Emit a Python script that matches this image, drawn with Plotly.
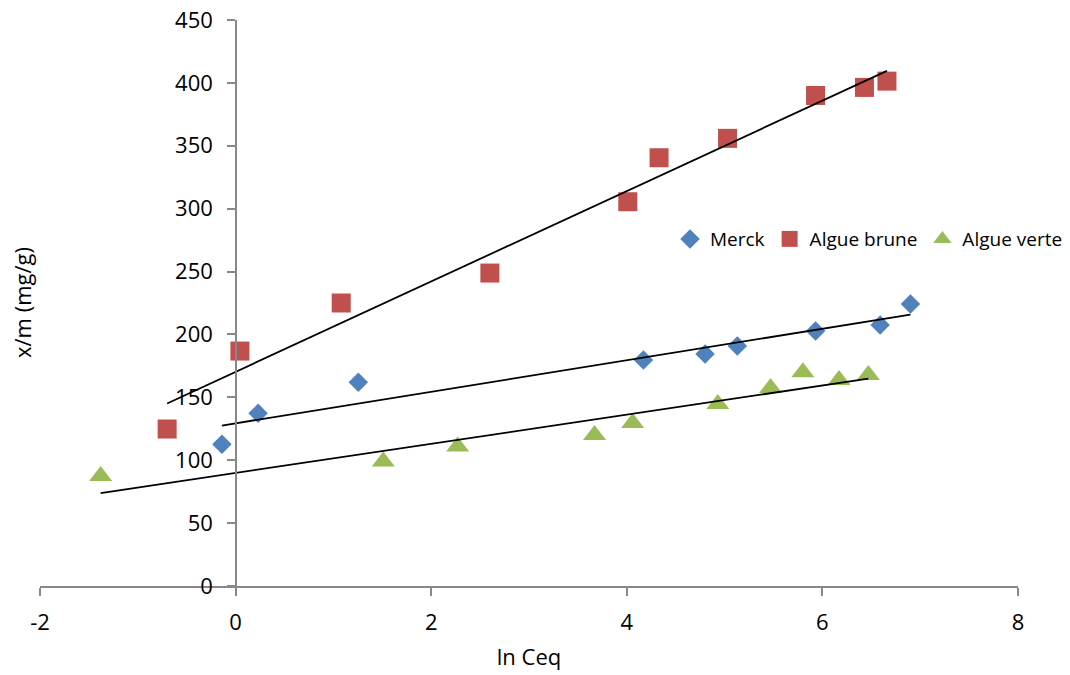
import numpy as np
import plotly.graph_objects as go

# Data
merck_x = [-0.14, 0.23, 1.255, 4.17, 4.80, 5.13, 5.93, 6.59, 6.90]
merck_y = [112.6, 137.3, 161.9, 179.6, 184.4, 190.8, 202.7, 207.5, 224.2]

brune_x = [-0.70, 0.044, 1.08, 2.60, 4.01, 4.33, 5.03, 5.93, 6.43, 6.66]
brune_y = [124.8, 186.8, 225.0, 248.8, 305.5, 340.5, 355.9, 390.0, 396.4, 401.4]

verte_x = [-1.38, 1.51, 2.27, 3.67, 4.06, 4.93, 5.47, 5.80, 6.17, 6.47]
verte_y = [87.4, 99.0, 111.0, 120.0, 129.6, 144.7, 157.4, 170.0, 163.8, 167.7]

series_names = ["Merck", "Algue brune", "Algue verte"]
colors = ["#4F81BD", "#C0504D", "#9BBB59"]
symbols = ["diamond", "square", "triangle-up"]
sizes = [15, 19, 20]

x_ticks = [-2, 0, 2, 4, 6, 8]
x_ticktext = ["-2", "0", "2", "4", "6", "8"]
y_ticks = [0, 50, 100, 150, 200, 250, 300, 350, 400, 450]

FONT = "Open Sans"

fig = go.Figure()
all_series = [(merck_x, merck_y), (brune_x, brune_y), (verte_x, verte_y)]

for (xs, ys), name, c, s, sz in zip(all_series, series_names, colors, symbols, sizes):
    fig.add_trace(go.Scatter(
        x=xs, y=ys, mode="markers", name=name,
        marker=dict(symbol=s, size=sz, color=c, line=dict(width=0)),
        cliponaxis=False,
    ))

# Linear trendlines (Excel-style), over each series' x range
for xs, ys in all_series:
    a, b = np.polyfit(xs, ys, 1)
    xl = [min(xs), max(xs)]
    yl = [a * v + b for v in xl]
    fig.add_trace(go.Scatter(
        x=xl, y=yl, mode="lines", showlegend=False, hoverinfo="skip",
        line=dict(color="black", width=1.8),
    ))

axis_color = "#888888"

fig.update_layout(
    width=1070, height=675,
    margin=dict(l=40, r=52, t=20, b=89, autoexpand=False),
    paper_bgcolor="white", plot_bgcolor="white",
    font=dict(family=FONT, size=22, color="#000000"),
    showlegend=True,
    legend=dict(
        orientation="h", x=(1068 - 40) / 978, xanchor="right", y=0.613, yanchor="middle",
        font=dict(size=19), bgcolor="rgba(0,0,0,0)", itemwidth=30,
        tracegroupgap=0,
    ),
    xaxis=dict(
        range=[-2, 8], tickvals=x_ticks, ticktext=x_ticktext,
        showgrid=False, zeroline=False, automargin=False,
        showline=True, linecolor=axis_color, linewidth=1.5,
        ticks="outside", ticklen=8, tickwidth=1.5, tickcolor=axis_color,
        ticklabelstandoff=8,
        title=dict(text="ln Ceq", standoff=14, font=dict(size=22)),
        tickfont=dict(size=22),
    ),
    yaxis=dict(
        range=[0, 450], tickvals=y_ticks, showgrid=False, zeroline=False,
        anchor="free", position=196 / 978, automargin=False,
        showline=True, linecolor=axis_color, linewidth=1.5,
        ticks="outside", ticklen=8, tickwidth=1.5, tickcolor=axis_color,
        ticklabelstandoff=10,
        tickfont=dict(size=22),
    ),
    annotations=[dict(
        text="x/m (mg/g)", xref="paper", yref="paper",
        x=(22 - 40) / 978, y=0.5, xanchor="center", yanchor="middle",
        textangle=-90, showarrow=False, font=dict(size=22),
    )],
)

fig.write_html("out.html")
